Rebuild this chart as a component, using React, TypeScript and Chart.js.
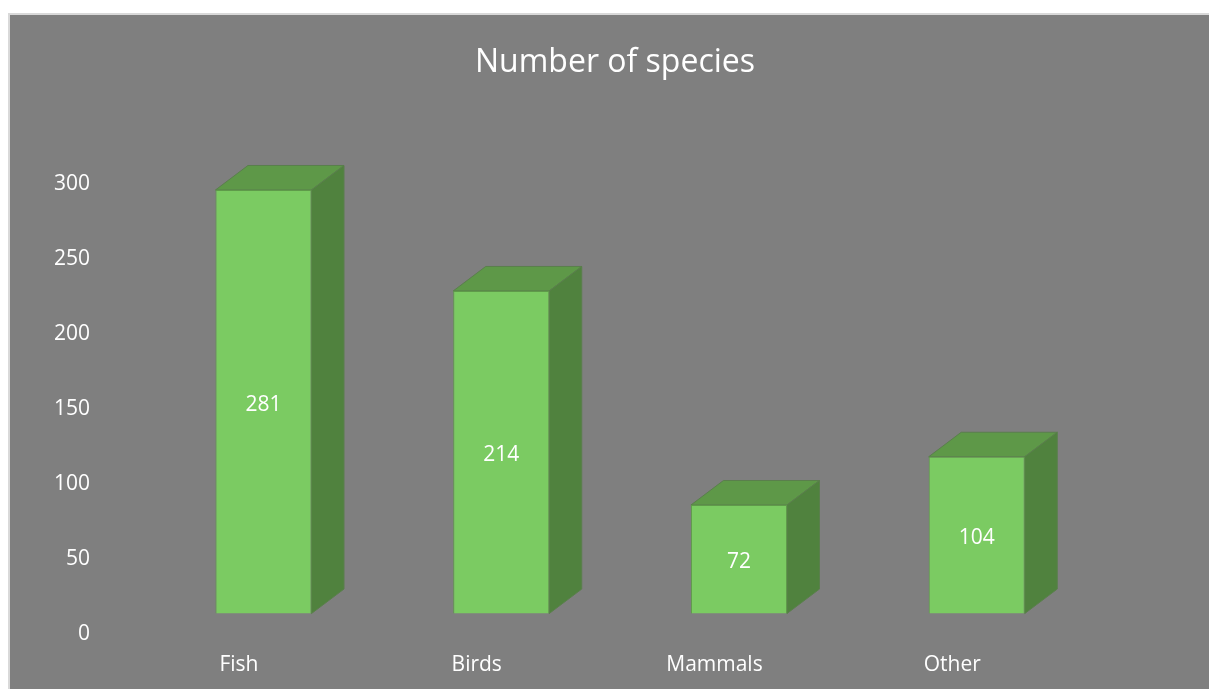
import { useEffect, useRef } from "react";
import { Chart, registerables } from "chart.js";

Chart.register(...registerables);

const categories = ["Fish", "Birds", "Mammals", "Other"];
const speciesCounts = [281, 214, 72, 104];
const valueTicks = [0, 50, 100, 150, 200, 250, 300];

const FONT = "'Open Sans', 'Noto Sans', sans-serif";
const PAGE_WHITE = "#ffffff";
const PANEL_GREY = "#7f7f7f";
const PANEL_EDGE = "#d9d9d9";
const BAR_FRONT = "#7bcb62";
const BAR_TOP = "#5e9848";
const BAR_SIDE = "#50823e";
const BAR_EDGE = "#5f9a4a";
const DEPTH_X = 32.5;
const DEPTH_Y = 24.5;

// Paints the page margin and the grey panel behind everything.
const panelPlugin = {
  id: "panel",
  beforeDraw(chart: any) {
    const { ctx, width, height } = chart;
    ctx.save();
    ctx.fillStyle = PAGE_WHITE;
    ctx.fillRect(0, 0, width, height);
    ctx.fillStyle = PANEL_EDGE;
    ctx.fillRect(8, 13, width - 8, height - 13);
    ctx.fillStyle = PANEL_GREY;
    ctx.fillRect(10, 15, width - 10, height - 15);
    ctx.restore();
  },
  // The title is centred across the panel rather than over the plot.
  afterLayout(chart: any) {
    if (chart.titleBlock) {
      chart.titleBlock.left = 21;
      chart.titleBlock.right = chart.width;
    }
  },
};

// Draws the top and side faces that give each bar its box look.
const depthPlugin = {
  id: "depth",
  beforeDatasetsDraw(chart: any) {
    const { ctx } = chart;
    ctx.save();
    chart.getDatasetMeta(0).data.forEach((bar: any) => {
      const left = bar.x - bar.width / 2;
      const right = bar.x + bar.width / 2;
      const top = bar.y;
      const bottom = bar.base;
      ctx.lineWidth = 1;
      ctx.strokeStyle = "#5a7f4c";
      ctx.fillStyle = BAR_TOP;
      ctx.beginPath();
      ctx.moveTo(left, top);
      ctx.lineTo(left + DEPTH_X, top - DEPTH_Y);
      ctx.lineTo(right + DEPTH_X, top - DEPTH_Y);
      ctx.lineTo(right, top);
      ctx.closePath();
      ctx.fill();
      ctx.stroke();
      ctx.fillStyle = BAR_SIDE;
      ctx.beginPath();
      ctx.moveTo(right, top);
      ctx.lineTo(right + DEPTH_X, top - DEPTH_Y);
      ctx.lineTo(right + DEPTH_X, bottom - DEPTH_Y);
      ctx.lineTo(right, bottom);
      ctx.closePath();
      ctx.fill();
      ctx.stroke();
    });
    ctx.restore();
  },
};

// Writes each count in the middle of its bar's front face.
const valueLabelPlugin = {
  id: "valueLabels",
  afterDatasetsDraw(chart: any) {
    const { ctx } = chart;
    ctx.save();
    ctx.fillStyle = "#ffffff";
    ctx.font = `21px ${FONT}`;
    ctx.textAlign = "center";
    ctx.textBaseline = "middle";
    chart.getDatasetMeta(0).data.forEach((bar: any, i: number) => {
      ctx.fillText(String(speciesCounts[i]), bar.x, (bar.y + bar.base) / 2 + 2.8);
    });
    ctx.restore();
  },
};

export default function App() {
  const canvasRef = useRef<HTMLCanvasElement>(null);

  useEffect(() => {
    document.body.style.margin = "0";
    document.body.style.overflow = "hidden";
    const chart = new Chart(canvasRef.current!, {
      type: "bar",
      data: {
        labels: categories,
        datasets: [
          {
            label: "Number of species",
            data: speciesCounts,
            yAxisID: "bars",
            backgroundColor: BAR_FRONT,
            borderColor: BAR_EDGE,
            borderWidth: 1,
            barPercentage: 1,
            categoryPercentage: 0.404,
          },
        ],
      },
      options: {
        animation: false,
        responsive: false,
        layout: { padding: { right: 113.4 } },
        plugins: {
          legend: { display: false },
          tooltip: { enabled: false },
          title: {
            display: true,
            text: "Number of species",
            color: "#ffffff",
            font: { family: FONT, size: 32, weight: "normal" },
            padding: { top: 44, bottom: 99.6 },
          },
        },
        scales: {
          x: {
            grid: { display: false },
            border: { display: false },
            ticks: {
              color: "#ffffff",
              font: { family: FONT, size: 21 },
              labelOffset: -24.5,
              padding: 15,
              maxRotation: 0,
            },
            afterFit(axis: any) {
              axis.height = 55;
            },
          },
          // Visible value axis, with its printed ticks.
          y: {
            position: "left",
            min: 0,
            max: 298.5,
            afterBuildTicks(axis: any) {
              axis.ticks = valueTicks.map((value) => ({ value }));
            },
            grid: { display: false },
            border: { display: false },
            ticks: {
              color: "#ffffff",
              font: { family: FONT, size: 21 },
              padding: 46.6,
              labelOffset: 4.5,
            },
            afterFit(axis: any) {
              axis.width = 144.6;
            },
          },
          // Hidden scale the bars are measured on; its zero rests above the printed zero.
          bars: {
            display: false,
            position: "left",
            min: -10.8,
            max: 286.3,
          },
        },
      },
      plugins: [panelPlugin, depthPlugin, valueLabelPlugin],
    } as any);
    return () => chart.destroy();
  }, []);

  return (
    <div style={{ width: 1209, height: 689 }}>
      <canvas ref={canvasRef} width={1209} height={689} style={{ display: "block" }} />
    </div>
  );
}
